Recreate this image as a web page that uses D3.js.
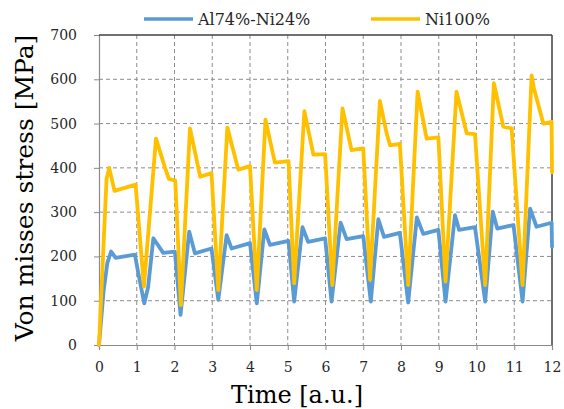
<!DOCTYPE html>
<html>
<head>
<meta charset="utf-8">
<script src="https://cdn.jsdelivr.net/npm/d3@7"></script>
<style>
  body { margin: 0; background: #fff; }
  svg { display: block; font-family: "DejaVu Serif", serif; }
</style>
</head>
<body>
<div id="chart"></div>
<script>
// series data
const alTime = [0, 0.12, 0.22, 0.32, 0.44, 0.95, 1.06, 1.2, 1.3, 1.44, 1.7, 2.01, 2.16, 2.39, 2.54, 2.98,
  3.16, 3.38, 3.51, 4.0, 4.18, 4.38, 4.53, 5.02, 5.17, 5.39, 5.54, 5.99, 6.16, 6.4, 6.56, 7.0,
  7.2, 7.4, 7.55, 7.97, 8.19, 8.42, 8.59, 8.99, 9.18, 9.43, 9.54, 9.96, 10.23, 10.43, 10.55, 10.98,
  11.22, 11.42, 11.59, 11.99, 12.0];
const alStress = [0, 120, 185, 211, 197, 204, 154, 94, 130, 241, 208, 211, 68, 256, 207, 218,
  102, 248, 218, 230, 94, 261, 226, 235, 98, 266, 233, 241, 98, 276, 239, 246,
  98, 284, 244, 253, 96, 288, 251, 260, 98, 293, 260, 266, 98, 301, 263, 271,
  98, 308, 267, 276, 222];

const niTime = [0, 0.2, 0.27, 0.41, 0.97, 1.19, 1.51, 1.75, 1.85, 2.02, 2.17, 2.41, 2.68, 2.98,
  3.16, 3.4, 3.69, 4.0, 4.18, 4.41, 4.56, 4.66, 5.02, 5.17, 5.44, 5.68, 5.99, 6.18, 6.45, 6.69, 7.0,
  7.18, 7.44, 7.62, 7.71, 7.97, 8.19, 8.44, 8.68, 8.99, 9.18, 9.47, 9.74, 9.96, 10.23, 10.46, 10.71, 10.93,
  11.22, 11.46, 11.52, 11.77, 11.99, 12.0];
const niStress = [0, 375, 400, 348, 362, 132, 466, 400, 375, 371, 90, 489, 380, 388,
  124, 491, 396, 404, 124, 509, 450, 412, 415, 139, 528, 430, 431, 135, 534, 440, 444,
  147, 551, 478, 451, 454, 135, 572, 466, 469, 143, 572, 478, 476, 135, 591, 493, 489,
  135, 609, 580, 500, 504, 390];

const seriesNames = ["Al74%-Ni24%", "Ni100%"];
const seriesColors = ["#5b9bd5", "#ffc000"];
const xTicks = d3.range(0, 13, 1);
const yTicks = d3.range(0, 701, 100);

const width = 564, height = 409;
const margin = { top: 35, right: 12, bottom: 64, left: 99 };
const innerW = width - margin.left - margin.right,
      innerH = height - margin.top - margin.bottom;

const svg = d3.select("#chart").append("svg")
  .attr("width", width)
  .attr("height", height);

const x = d3.scaleLinear().domain([0, 12]).range([0, innerW]);
const y = d3.scaleLinear().domain([0, 700]).range([innerH, 0]);

const g = svg.append("g").attr("transform", `translate(${margin.left},${margin.top})`);

// dashed grid
g.append("g").selectAll("line")
  .data(yTicks.filter(d => d > 0 && d < 700))
  .join("line")
  .attr("x1", 0).attr("x2", innerW)
  .attr("y1", d => y(d)).attr("y2", d => y(d))
  .attr("stroke", "#8c8c8c").attr("stroke-width", 1)
  .attr("stroke-dasharray", "4,3");

g.append("g").selectAll("line")
  .data(xTicks.filter(d => d > 0 && d < 12))
  .join("line")
  .attr("y1", 0).attr("y2", innerH)
  .attr("x1", d => x(d)).attr("x2", d => x(d))
  .attr("stroke", "#8c8c8c").attr("stroke-width", 1)
  .attr("stroke-dasharray", "4,3");

// axes
const xAxis = g.append("g")
  .attr("transform", `translate(0,${innerH})`)
  .call(d3.axisBottom(x).tickValues(xTicks).tickSize(5).tickPadding(12).tickFormat(d3.format("d")));
const yAxis = g.append("g")
  .call(d3.axisLeft(y).tickValues(yTicks).tickSize(5).tickPadding(17).tickFormat(d3.format("d")));

[xAxis, yAxis].forEach(ax => {
  ax.select(".domain").attr("stroke", "#8a8a8a").attr("stroke-width", 1.2);
  ax.selectAll(".tick line").attr("stroke", "#8a8a8a");
  ax.selectAll(".tick text")
    .attr("fill", "#262626")
    .style("font-family", "DejaVu Serif, serif")
    .style("font-size", "14px");
});

// top and right frame
g.append("line").attr("x1", 0).attr("x2", innerW).attr("y1", 0).attr("y2", 0)
  .attr("stroke", "#404040").attr("stroke-width", 1.5);
g.append("line").attr("x1", innerW).attr("x2", innerW).attr("y1", 0).attr("y2", innerH)
  .attr("stroke", "#404040").attr("stroke-width", 1.5);

// lines
const line = d3.line().x(d => x(d[0])).y(d => y(d[1]));
const series = [
  d3.zip(alTime, alStress),
  d3.zip(niTime, niStress)
];

series.forEach((s, i) => {
  g.append("path")
    .datum(s)
    .attr("fill", "none")
    .attr("stroke", seriesColors[i])
    .attr("stroke-width", 3.8)
    .attr("stroke-linejoin", "round")
    .attr("stroke-linecap", "round")
    .attr("d", line);
});

// legend
const legendX = [144, 371];
seriesNames.forEach((name, i) => {
  svg.append("line")
    .attr("x1", legendX[i]).attr("x2", legendX[i] + 49)
    .attr("y1", 19).attr("y2", 19)
    .attr("stroke", seriesColors[i]).attr("stroke-width", 3.6);
  svg.append("text")
    .attr("x", legendX[i] + 54).attr("y", 25)
    .attr("fill", "#262626")
    .style("font-size", "16px")
    .text(name);
});

// axis titles
svg.append("text")
  .attr("x", 297).attr("y", 403)
  .attr("text-anchor", "middle")
  .attr("fill", "#000")
  .style("font-size", "24px")
  .text("Time [a.u.]");

svg.append("text")
  .attr("transform", "translate(33,188) rotate(-90)")
  .attr("text-anchor", "middle")
  .attr("fill", "#000")
  .style("font-size", "25px")
  .text("Von misses stress [MPa]");
</script>
</body>
</html>
